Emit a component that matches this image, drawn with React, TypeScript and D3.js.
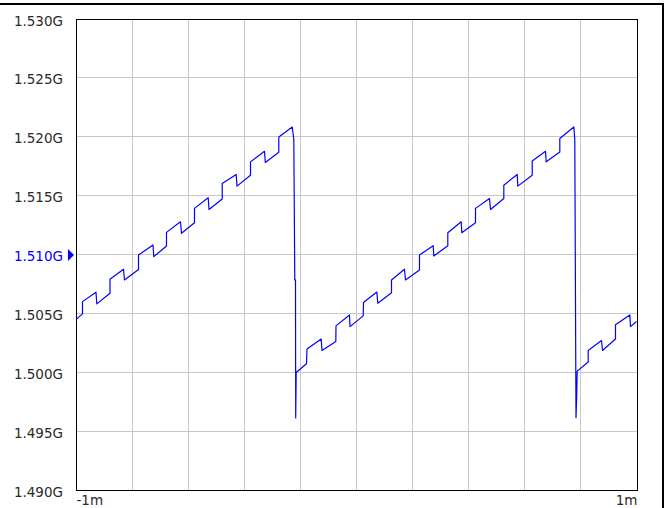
import React from 'react';
import * as d3 from 'd3';

// time in ms, frequency in GHz (vertices)
const timeMs = [
  -1.0000, -0.9786, -0.9786, -0.9304, -0.9275, -0.8804, -0.8804, -0.8321, -0.8286,
  -0.7786, -0.7786, -0.7268, -0.7239, -0.6786, -0.6786, -0.6286, -0.6250, -0.5786,
  -0.5786, -0.5296, -0.5268, -0.4796, -0.4796, -0.4296, -0.4268, -0.3786, -0.3786,
  -0.3286, -0.3257, -0.2775, -0.2775, -0.2296, -0.2239, -0.2204, -0.2179, -0.2171,
  -0.2154, -0.1786, -0.1768, -0.1261, -0.1232, -0.0739, -0.0732, -0.0250, -0.0232,
  0.0239, 0.0250, 0.0725, 0.0761, 0.1250, 0.1250, 0.1714, 0.1750, 0.2250, 0.2250,
  0.2739, 0.2761, 0.3261, 0.3261, 0.3739, 0.3761, 0.4250, 0.4250, 0.4750, 0.4786,
  0.5261, 0.5261, 0.5739, 0.5761, 0.6275, 0.6275, 0.6750, 0.6775, 0.7261, 0.7261,
  0.7761, 0.7796, 0.7839, 0.7864, 0.7882, 0.8275, 0.8275, 0.8750, 0.8786, 0.9250,
  0.9250, 0.9761, 0.9786, 1.0000,
];

const freqGHz = [
  1.50455, 1.50500, 1.50604, 1.50684, 1.50585, 1.50675, 1.50794, 1.50879, 1.50788,
  1.50877, 1.51000, 1.51085, 1.50986, 1.51076, 1.51192, 1.51282, 1.51184, 1.51274,
  1.51396, 1.51486, 1.51387, 1.51475, 1.51608, 1.51684, 1.51585, 1.51678, 1.51791,
  1.51881, 1.51786, 1.51873, 1.52003, 1.52087, 1.51983, 1.50788, 1.50788, 1.49616,
  1.50002, 1.50076, 1.50201, 1.50286, 1.50189, 1.50265, 1.50398, 1.50491, 1.50392,
  1.50483, 1.50596, 1.50685, 1.50591, 1.50680, 1.50788, 1.50879, 1.50788, 1.50873,
  1.51000, 1.51079, 1.50991, 1.51079, 1.51189, 1.51282, 1.51189, 1.51274, 1.51396,
  1.51480, 1.51387, 1.51480, 1.51593, 1.51684, 1.51585, 1.51678, 1.51799, 1.51881,
  1.51791, 1.51875, 1.51989, 1.52087, 1.51983, 1.49618, 1.49796, 1.50014, 1.50091,
  1.50189, 1.50274, 1.50189, 1.50286, 1.50407, 1.50491, 1.50392, 1.50435,
];

const yTickValues = [1.490, 1.495, 1.500, 1.505, 1.510, 1.515, 1.520, 1.525, 1.530];
const yTickLabels = ['1.490G', '1.495G', '1.500G', '1.505G', '1.510G', '1.515G', '1.520G', '1.525G', '1.530G'];
const xGridValues = [-0.8, -0.6, -0.4, -0.2, 0, 0.2, 0.4, 0.6, 0.8];
const xTickLabels = ['-1m', '1m'];
const markerValue = 1.510;

export default function App() {
  const W = 669;
  const H = 508;
  const left = 76.5, right = 637.5, top = 19.5, bottom = 490.5;
  const x = d3.scaleLinear().domain([-1, 1]).range([left, right - 1]);
  const y = d3.scaleLinear().domain([1.490, 1.530]).range([bottom, top]);

  const pts: [number, number][] = timeMs.map((t, i) => [t, freqGHz[i]]);
  const line = d3.line<[number, number]>().x(d => x(d[0])).y(d => y(d[1]));

  const font = "'DejaVu Sans', Verdana, sans-serif";
  const textColor = '#2a2a2a';
  const blue = '#0000ff';
  const crispY = (v: number) => Math.floor(y(v) - 0.5) + 0.5;
  const crispX = (v: number) => Math.round(x(v) - 0.5) + 0.5;

  return (
    <svg width={W} height={H} style={{ position: 'absolute', left: 0, top: 0, background: '#fff' }}>
      <defs>
        <clipPath id="plotClip">
          <rect x={left} y={top} width={right - left} height={bottom - top} />
        </clipPath>
      </defs>
      <rect x={0} y={0} width={W} height={H} fill="#fff" />
      {/* outer frame */}
      <line x1={0} x2={664} y1={4} y2={4} stroke="#000" strokeWidth={2} />
      <line x1={663} x2={663} y1={3} y2={H} stroke="#000" strokeWidth={2} />

      {/* grid */}
      {xGridValues.map((v, i) => (
        <line key={'gx' + i} x1={crispX(v)} x2={crispX(v)} y1={top} y2={bottom} stroke="#c8c8c8" strokeWidth={1} />
      ))}
      {yTickValues.slice(1, -1).map((v, i) => (
        <line key={'gy' + i} x1={left} x2={right} y1={crispY(v)} y2={crispY(v)} stroke="#c8c8c8" strokeWidth={1} />
      ))}

      {/* plot border */}
      <rect x={left} y={top} width={right - left} height={bottom - top} fill="none" stroke="#000" strokeWidth={1} />

      {/* trace */}
      <path d={line(pts) || ''} fill="none" stroke={blue} strokeWidth={1.2} strokeLinejoin="round" clipPath="url(#plotClip)" />

      {/* y labels */}
      {yTickValues.map((v, i) => (
        <text
          key={'yl' + i}
          x={63}
          y={y(v) + 1}
          textAnchor="end"
          dominantBaseline="central"
          fontFamily={font}
          fontSize={13.5}
          fill={v === markerValue ? blue : textColor}
        >
          {yTickLabels[i]}
        </text>
      ))}
      {/* marker */}
      <path
        d={`M68,${y(markerValue) - 6} L74,${y(markerValue)} L68,${y(markerValue) + 6} Z`}
        fill={blue}
      />

      {/* x labels */}
      <text x={left} y={505} textAnchor="start" fontFamily={font} fontSize={13.5} fill={textColor}>
        {xTickLabels[0]}
      </text>
      <text x={right} y={505} textAnchor="end" fontFamily={font} fontSize={13.5} fill={textColor}>
        {xTickLabels[1]}
      </text>
    </svg>
  );
}
